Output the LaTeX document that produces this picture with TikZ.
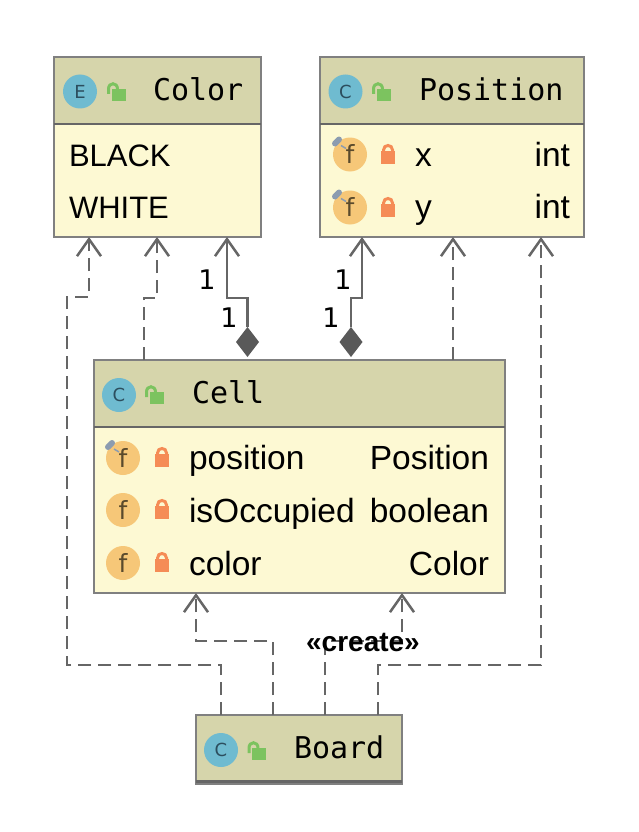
\documentclass[tikz,border=0pt]{standalone}
\usepackage{fontspec}
\setmainfont{Liberation Sans}
\setmonofont{DejaVu Sans Mono}
\newfontfamily\labelfont{DejaVu Sans}
\usepackage{xcolor}
\usepackage{tikz}
\usetikzlibrary{shapes.geometric, arrows.meta}
\definecolor{headfill}{HTML}{D6D5AB}
\definecolor{bodyfill}{HTML}{FDF9D3}
\definecolor{boxline}{HTML}{808080}
\definecolor{divline}{HTML}{666666}
\definecolor{linkline}{HTML}{666666}
\definecolor{tipfill}{HTML}{595959}
\definecolor{classblue}{HTML}{6FBBD0}
\definecolor{classtext}{HTML}{2C4E5E}
\definecolor{fieldgold}{HTML}{F6C778}
\definecolor{fieldtext}{HTML}{5A4A2C}
\definecolor{tackblue}{HTML}{8C9CB0}
\definecolor{lockgreen}{HTML}{7CC35F}
\definecolor{lockorange}{HTML}{F58C56}

\begin{document}
\begin{tikzpicture}[
  x=1pt,
  y=-1pt,
  every node/.style={inner sep=0pt, outer sep=0pt},
  headbox/.style={draw=boxline, line width=2.4pt, fill=headfill, anchor=north west},
  bodybox/.style={draw=boxline, line width=2.4pt, fill=bodyfill, anchor=north west},
  title/.style={font=\ttfamily\fontsize{30}{30}\selectfont, anchor=base west},
  row/.style={font=\fontsize{33.5}{33.5}\selectfont, anchor=base west},
  caprow/.style={font=\fontsize{31}{31}\selectfont, anchor=base west},
  rowtype/.style={font=\fontsize{33.5}{33.5}\selectfont, anchor=base east},
  mult/.style={font=\labelfont\fontsize{27}{27}\selectfont, anchor=base},
  comp/.style={diamond, fill=tipfill, aspect=0.77, minimum width=23pt, minimum height=30pt},
  dep/.style={draw=linkline, line width=2.5pt, dash pattern=on 13pt off 7pt, -{Straight Barb[length=17pt, width=24pt, line width=2.5pt]}},
  assoc/.style={draw=linkline, line width=2.5pt, -{Straight Barb[length=17pt, width=24pt, line width=2.5pt]}},
  pics/classicon/.style={code={
    \fill[classblue] (0,0) circle (17);
    \node[font=\labelfont\fontsize{18}{18}\selectfont, text=classtext] (letter) at (0,0) {#1};
  }},
  pics/fieldicon/.style={code={
    \fill[fieldgold] (0,0) circle (17);
    \node[font=\labelfont\fontsize{25}{25}\selectfont, text=fieldtext] (letter) at (0,0) {f};
  }},
  pics/tack/.style={code={
    \draw[tackblue, line width=1.5pt] (-9,-9) -- (-4,-6);
    \draw[tackblue, line width=6pt, line cap=round] (-15,-11) -- (-11,-15);
  }},
  pics/openlock/.style={code={
    \fill[lockgreen] (-7,-6) rectangle (7,6);
    \draw[lockgreen, line width=3pt] (-10,-1) -- (-10,-6) .. controls (-10,-13) and (-1,-13) .. (-1,-6);
  }},
  pics/shutlock/.style={code={
    \fill[lockorange] (-7,-4) rectangle (7,9);
    \draw[lockorange, line width=3pt] (-4.5,-4) -- (-4.5,-5) .. controls (-4.5,-11) and (4.5,-11) .. (4.5,-5) -- (4.5,-4);
  }}
]

\useasboundingbox (0,0) rectangle (638,832);
\fill[white] (0,0) rectangle (638,832);

% Color
\node[headbox, minimum width=207pt, minimum height=67pt] (colorhead) at (54,57) {};
\node[bodybox, minimum width=207pt, minimum height=113pt] (colorbody) at (54,124) {};
\draw[divline, line width=2.4pt] (colorbody.north west) -- (colorbody.north east);
\pic (coloricon) at (80,91.5) {classicon=E};
\pic (colorlock) at (118.5,95) {openlock};
\node[title] (colortitle) at (153,101) {Color};
\node[caprow] (colorblack) at (69,166) {BLACK};
\node[caprow] (colorwhite) at (69,218) {WHITE};

% Position
\node[headbox, minimum width=264pt, minimum height=67pt] (poshead) at (320,57) {};
\node[bodybox, minimum width=264pt, minimum height=113pt] (posbody) at (320,124) {};
\draw[divline, line width=2.4pt] (posbody.north west) -- (posbody.north east);
\pic (posicon) at (345.5,91.5) {classicon=C};
\pic (poslock) at (383.5,95) {openlock};
\node[title] (postitle) at (419,101) {Position};
\pic (xicon) at (350,154.5) {fieldicon};
\pic (xtack) at (350,154.5) {tack};
\pic (xlock) at (388,155) {shutlock};
\node[row] (xname) at (415,166) {x};
\node[rowtype] (xtype) at (570,166) {int};
\pic (yicon) at (350,207.5) {fieldicon};
\pic (ytack) at (350,207.5) {tack};
\pic (ylock) at (388,208) {shutlock};
\node[row] (yname) at (415,218) {y};
\node[rowtype] (ytype) at (570,218) {int};

% Cell
\node[headbox, minimum width=411pt, minimum height=67pt] (cellhead) at (94,360) {};
\node[bodybox, minimum width=411pt, minimum height=166pt] (cellbody) at (94,427) {};
\draw[divline, line width=2.4pt] (cellbody.north west) -- (cellbody.north east);
\pic (cellicon) at (119,395) {classicon=C};
\pic (celllock) at (156.5,398) {openlock};
\node[title] (celltitle) at (192,403) {Cell};
\pic (posfield) at (123,458) {fieldicon};
\pic (postack) at (123,458) {tack};
\pic (posfieldlock) at (162,458) {shutlock};
\node[row] (posname) at (189,469) {position};
\node[rowtype] (postype) at (489,469) {Position};
\pic (occfield) at (123,510) {fieldicon};
\pic (occlock) at (162,510) {shutlock};
\node[row] (occname) at (189,522) {isOccupied};
\node[rowtype] (occtype) at (489,522) {boolean};
\pic (colfield) at (123,563) {fieldicon};
\pic (collock) at (162,563) {shutlock};
\node[row] (colname) at (189,575) {color};
\node[rowtype] (coltype) at (489,575) {Color};

% Board
\node[headbox, minimum width=206pt, minimum height=69pt] (boardhead) at (196,715) {};
\draw[divline, line width=2.4pt] (196,781.5) -- (402,781.5);
\pic (boardicon) at (221,750) {classicon=C};
\pic (boardlock) at (259,754) {openlock};
\node[title] (boardtitle) at (294,758) {Board};

% links
\node[comp] (compcolor) at (247.5,342) {};
\node[comp] (comppos) at (351,342) {};

\draw[assoc] (compcolor.north) |- (227,298) -- (227,0 |- colorbody.south);
\draw[assoc] (comppos.north) |- (362,298) -- (362,0 |- posbody.south);
\draw[dep] (144,0 |- cellhead.north) |- (157,298) -- (157,0 |- colorbody.south);
\draw[dep] (453,0 |- cellhead.north) -- (453,0 |- posbody.south);
\draw[dep] (221,0 |- boardhead.north) |- (67,665) |- (89,297) -- (89,0 |- colorbody.south);
\draw[dep] (378,0 |- boardhead.north) |- (541,665) -- (541,0 |- posbody.south);
\draw[dep] (273,0 |- boardhead.north) |- (196,641) -- (196,0 |- cellbody.south);
\draw[dep] (325,0 |- boardhead.north) |- (402,641) -- (402,0 |- cellbody.south);

\node[mult] (multa) at (207,289) {1};
\node[mult] (multb) at (229,327) {1};
\node[mult] (multc) at (343,289) {1};
\node[mult] (multd) at (331,327) {1};
\node[font=\bfseries\fontsize{28}{28}\selectfont, anchor=base] (createtag) at (363,651) {«create»};

\end{tikzpicture}
\end{document}
